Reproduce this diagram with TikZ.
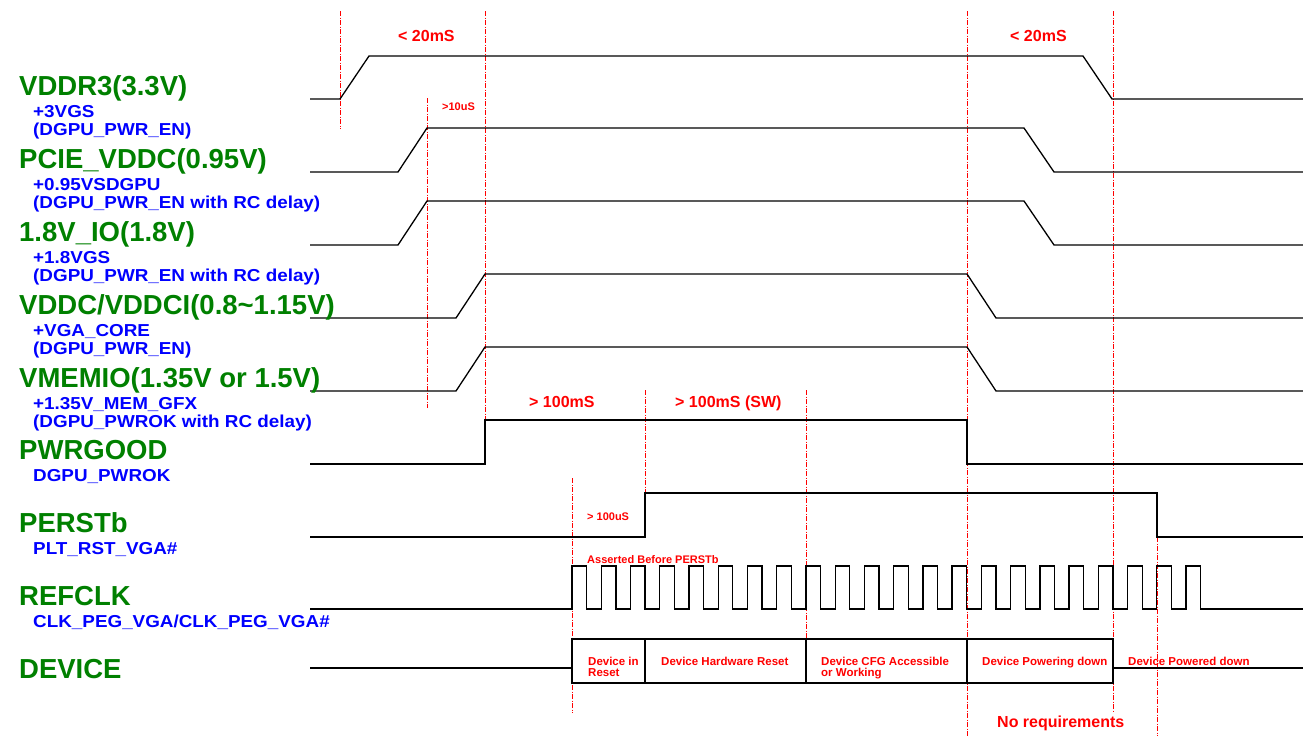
\documentclass[tikz,border=0pt]{standalone}
\usepackage{fontspec}
\setmainfont{Liberation Sans}
\newfontfamily\widesans[FakeStretch=1.09]{Liberation Sans}
\definecolor{sigc}{RGB}{0,128,0}
\definecolor{subc}{RGB}{0,0,255}
\definecolor{timc}{RGB}{255,0,0}
\tikzset{
  wave/.style={line width=1.3pt, black, line join=miter},
  guide/.style={timc, line width=0.9pt, dash pattern=on 5pt off 1.5pt on 1pt off 1.5pt},
  siglabel/.style={anchor=base west, inner sep=0pt, text=sigc, font=\fontsize{27.5}{30}\selectfont\bfseries},
  sublabel/.style={anchor=base west, inner sep=0pt, text=subc, font=\widesans\fontsize{17.3}{20}\selectfont\bfseries},
  timelabel/.style={anchor=base west, inner sep=0pt, text=timc, font=\fontsize{16}{18}\selectfont\bfseries},
  smalllabel/.style={anchor=base west, inner sep=0pt, text=timc, font=\fontsize{11}{12}\selectfont\bfseries},
  devlabel/.style={anchor=base west, inner sep=0pt, text=timc, font=\fontsize{11.5}{12}\selectfont\bfseries},
}
\begin{document}
\begin{tikzpicture}[x=1pt, y=-1pt]
\useasboundingbox (0,0) rectangle (1303,736);

% ---- guide lines (red dash-dot) ----
\draw[guide] (340,11) -- (340,129);
\draw[guide] (485,11) -- (485,420);
\draw[guide] (967,11) -- (967,736);
\draw[guide] (1113,11) -- (1113,713);
\draw[guide] (427,98) -- (427,408);
\draw[guide] (645,390) -- (645,493);
\draw[guide] (806,390) -- (806,639);
\draw[guide] (572,478) -- (572,713);
\draw[guide] (1157,537) -- (1157,736);

% ---- waveforms ----
\draw[wave] (310,99) -- (340,99) -- (369,56) -- (1083,56) -- (1112,99) -- (1303,99);
\draw[wave] (310,172) -- (398,172) -- (427,128) -- (1024,128) -- (1054,172) -- (1303,172);
\draw[wave] (310,245) -- (398,245) -- (427,201) -- (1024,201) -- (1054,245) -- (1303,245);
\draw[wave] (310,318) -- (456,318) -- (485,274) -- (967,274) -- (996,318) -- (1303,318);
\draw[wave] (310,391) -- (456,391) -- (485,347) -- (967,347) -- (996,391) -- (1303,391);
\draw[wave] (310,464) -- (485,464) -- (485,420) -- (967,420) -- (967,464) -- (1303,464);
\draw[wave] (310,537) -- (645,537) -- (645,493) -- (1157,493) -- (1157,537) -- (1303,537);
\draw[wave] (310,609) -- (572,609)
  foreach \k in {0,...,21} {
    -- ({572+\k*29.24},566) -- ({586.62+\k*29.24},566)
    -- ({586.62+\k*29.24},609) -- ({572+(\k+1)*29.24},609)
  } -- (1303,609);
\draw[wave] (310,668) -- (572,668);
\draw[wave] (572,639) rectangle (1113,683);
\draw[wave] (645,639) -- (645,683);
\draw[wave] (806,639) -- (806,683);
\draw[wave] (967,639) -- (967,683);
\draw[wave] (1113,668) -- (1303,668);

% ---- signal names ----
\node[siglabel] (n1) at (19,95) {VDDR3(3.3V)};
\node[sublabel] (n1a) at (33,117) {+3VGS};
\node[sublabel] (n1b) at (33,135) {(DGPU\_PWR\_EN)};
\node[siglabel] (n2) at (19,168) {PCIE\_VDDC(0.95V)};
\node[sublabel] (n2a) at (33,190) {+0.95VSDGPU};
\node[sublabel] (n2b) at (33,208) {(DGPU\_PWR\_EN with RC delay)};
\node[siglabel] (n3) at (19,241) {1.8V\_IO(1.8V)};
\node[sublabel] (n3a) at (33,263) {+1.8VGS};
\node[sublabel] (n3b) at (33,281) {(DGPU\_PWR\_EN with RC delay)};
\node[siglabel] (n4) at (19,314) {VDDC/VDDCI(0.8\char`\~1.15V)};
\node[sublabel] (n4a) at (33,336) {+VGA\_CORE};
\node[sublabel] (n4b) at (33,354) {(DGPU\_PWR\_EN)};
\node[siglabel] (n5) at (19,387) {VMEMIO(1.35V or 1.5V)};
\node[sublabel] (n5a) at (33,409) {+1.35V\_MEM\_GFX};
\node[sublabel] (n5b) at (33,427) {(DGPU\_PWROK with RC delay)};
\node[siglabel] (n6) at (19,459) {PWRGOOD};
\node[sublabel] (n6a) at (33,481) {DGPU\_PWROK};
\node[siglabel] (n7) at (19,532) {PERSTb};
\node[sublabel] (n7a) at (33,554) {PLT\_RST\_VGA\#};
\node[siglabel] (n8) at (19,605) {REFCLK};
\node[sublabel] (n8a) at (33,627) {CLK\_PEG\_VGA/CLK\_PEG\_VGA\#};
\node[siglabel] (n9) at (19,678) {DEVICE};

% ---- timing labels ----
\node[timelabel] (t1) at (398,41) {< 20mS};
\node[timelabel] (t2) at (1010,41) {< 20mS};
\node[smalllabel] (t3) at (442,110) {>10uS};
\node[timelabel] (t4) at (529,407) {> 100mS};
\node[timelabel] (t5) at (675,407) {> 100mS (SW)};
\node[smalllabel] (t6) at (587,520) {> 100uS};
\node[smalllabel] (t7) at (587,563) {Asserted Before PERSTb};
\node[timelabel] (t8) at (997,727) {No requirements};

% ---- device states ----
\node[devlabel] (d1) at (588,665) {Device in};
\node[devlabel] (d1b) at (588,676) {Reset};
\node[devlabel] (d2) at (661,665) {Device Hardware Reset};
\node[devlabel] (d3) at (821,665) {Device CFG Accessible};
\node[devlabel] (d3b) at (821,676) {or Working};
\node[devlabel] (d4) at (982,665) {Device Powering down};
\node[devlabel] (d5) at (1128,665) {Device Powered down};
\end{tikzpicture}
\end{document}
